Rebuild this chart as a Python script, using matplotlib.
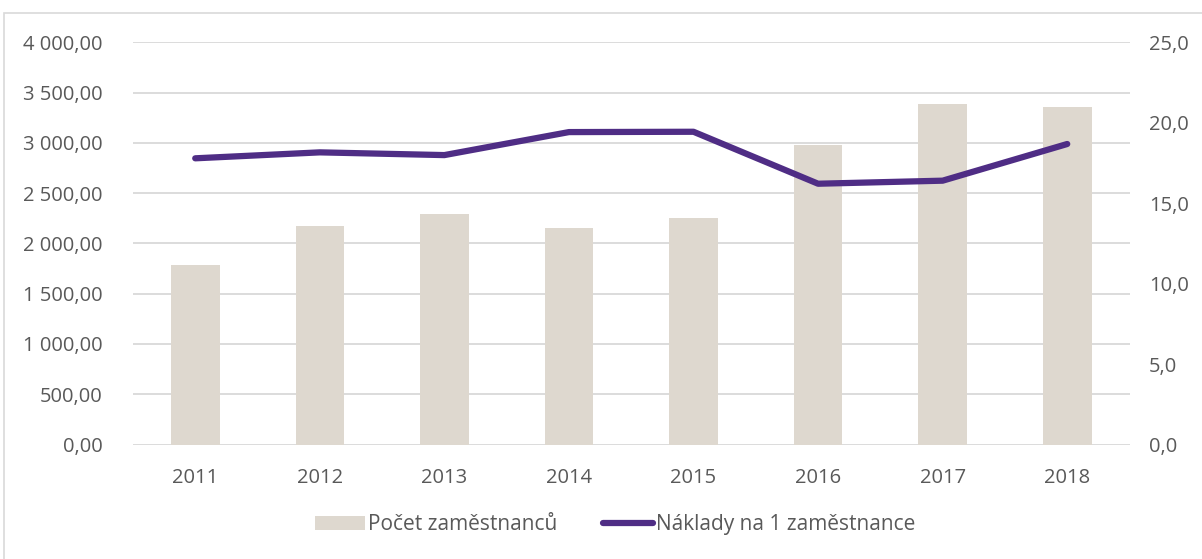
import numpy as np
import matplotlib.pyplot as plt
from matplotlib.patches import Rectangle
from matplotlib.ticker import FuncFormatter

# data
roky = ['2011', '2012', '2013', '2014', '2015', '2016', '2017', '2018']
pocet_zamestnancu = [1781, 2169, 2291, 2152, 2251, 2977, 3385, 3355]
naklady_na_zam = [17.79, 18.16, 17.99, 19.42, 19.44, 16.21, 16.40, 18.68]

left_ticks = [0, 500, 1000, 1500, 2000, 2500, 3000, 3500, 4000]
right_ticks = [0, 5, 10, 15, 20, 25]

bar_col = '#DED8CF'
line_col = '#4F2D85'
grid_col = '#D9D9D9'
txt_col = '#595959'

plt.rcParams['font.family'] = ['Open Sans', 'DejaVu Sans']

fig = plt.figure(figsize=(12.02, 5.59), dpi=100)
ax1 = fig.add_axes([0.1106, 0.2048, 0.8291, 0.7195])
ax2 = ax1.twinx()

# outer chart frame (light grey)
fig.patches.append(Rectangle((4 / 1202, -0.1), 1.2, 1 - 13 / 559 + 0.1,
                             transform=fig.transFigure, fill=False,
                             edgecolor='#D9D9D9', linewidth=1.2))

x = np.arange(len(roky))
ax1.bar(x, pocet_zamestnancu, width=0.39, color=bar_col, label='Počet zaměstnanců', zorder=2)
ax2.plot(x, naklady_na_zam, color=line_col, linewidth=4.5, solid_capstyle='round',
         label='Náklady na 1 zaměstnance', zorder=3)

ax1.set_xlim(-0.5, len(roky) - 0.5)
ax1.set_ylim(0, 4000)
ax2.set_ylim(0, 25)
ax1.set_yticks(left_ticks)
ax2.set_yticks(right_ticks)
ax1.set_xticks(x)
ax1.set_xticklabels(roky)

def cz_fmt2(v, pos):
    s = '{:,.2f}'.format(v)
    return s.replace(',', ' ').replace('.', ',')

ax1.yaxis.set_major_formatter(FuncFormatter(cz_fmt2))
ax2.yaxis.set_major_formatter(FuncFormatter(lambda v, p: '{:.1f}'.format(v).replace('.', ',')))

ax1.grid(axis='y', color=grid_col, linewidth=1.3, zorder=0)
ax1.set_axisbelow(True)
for ax in (ax1, ax2):
    for s in ax.spines.values():
        s.set_visible(False)
    ax.tick_params(length=0, colors=txt_col, labelsize=14.5)
ax1.tick_params(axis='y', pad=22)
ax1.tick_params(axis='x', pad=17)
ax2.tick_params(axis='y', pad=14)

h1, l1 = ax1.get_legend_handles_labels()
h2, l2 = ax2.get_legend_handles_labels()
leg = fig.legend(h1 + h2, l1 + l2, loc='center', bbox_to_anchor=(0.512, 0.061), ncol=2,
                 frameon=False, fontsize=15, handlelength=2.4, handletextpad=0.15,
                 columnspacing=2.2)
for t in leg.get_texts():
    t.set_color(txt_col)

fig.savefig('out.png', dpi=100)
